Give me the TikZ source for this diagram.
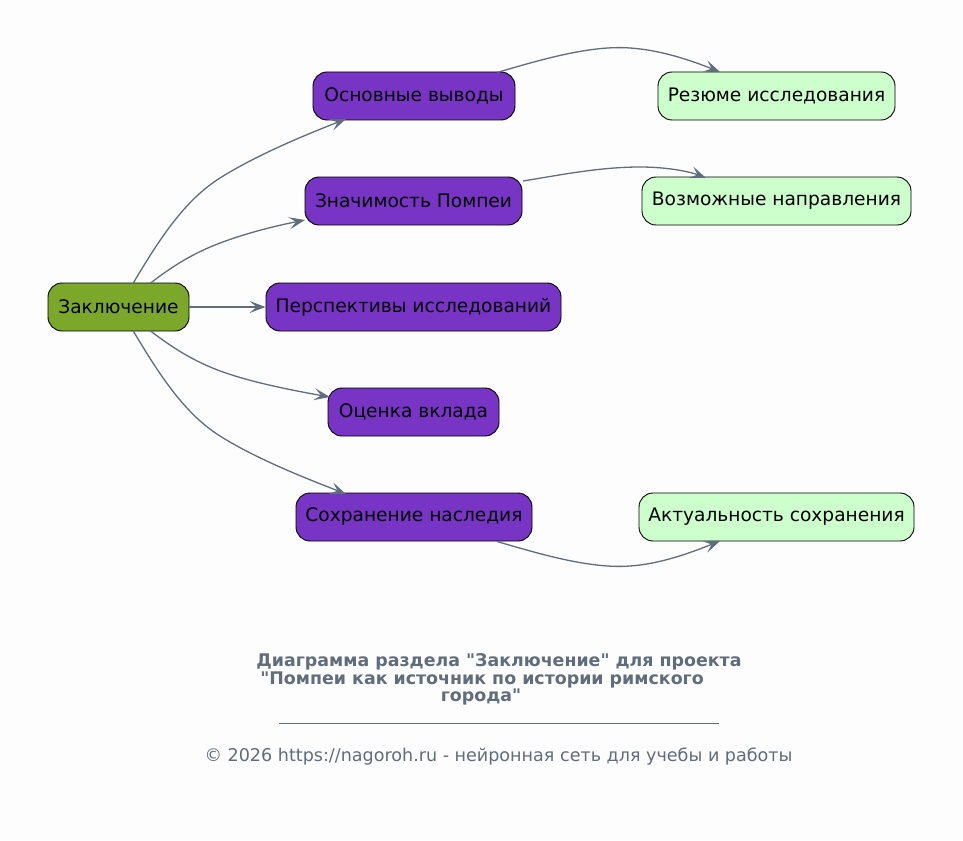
\documentclass[tikz,border=0pt]{standalone}
\usepackage{fontspec}
\setmainfont{DejaVu Sans}
\usetikzlibrary{arrows.meta}
\definecolor{bg}{HTML}{FDFDFD}
\definecolor{rootc}{HTML}{7BA82A}
\definecolor{midc}{HTML}{7834C4}
\definecolor{leafc}{HTML}{CCFFCC}
\definecolor{edgec}{HTML}{5F6D7C}
\begin{document}
\begin{tikzpicture}[x=1pt,y=-1pt,
  box/.style={draw=black,line width=0.9pt,rounded corners=14pt,minimum height=48pt,inner xsep=0pt,font=\fontsize{18.6}{21}\selectfont,text=black},
  rootbox/.style={box,fill=rootc},
  midbox/.style={box,fill=midc},
  leafbox/.style={box,fill=leafc},
  conn/.style={draw=edgec,line width=1.3pt,-{Stealth[length=16pt,width=12pt,inset=7pt]}}]
\fill[bg] (0,0) rectangle (963,840);
\useasboundingbox (0,0) rectangle (963,840);
\node[rootbox,minimum width=141pt] (root) at (118.5,307) {Заключение};
\node[midbox,minimum width=202pt] (m1) at (414,96) {Основные выводы};
\node[midbox,minimum width=217pt] (m2) at (413.5,201) {Значимость Помпеи};
\node[midbox,minimum width=295pt] (m3) at (413.5,307) {Перспективы исследований};
\node[midbox,minimum width=171pt] (m4) at (413.5,412) {Оценка вклада};
\node[midbox,minimum width=236pt] (m5) at (414,517) {Сохранение наследия};
\node[leafbox,minimum width=237pt] (l1) at (776.5,96) {Резюме исследования};
\node[leafbox,minimum width=269pt] (l2) at (776.5,201) {Возможные направления};
\node[leafbox,minimum width=275pt] (l3) at (776.5,517) {Актуальность сохранения};
% connector end points on node borders
\coordinate (r1) at (133,283.5);
\coordinate (r2) at (150,283.5);
\coordinate (r4) at (150,330.5);
\coordinate (r5) at (133,330.5);
\coordinate (t1) at (346,119);
\coordinate (t2) at (305,220);
\coordinate (t4) at (330,397);
\coordinate (t5) at (346,494);
\coordinate (s6) at (497,72.5);
\coordinate (t6) at (720,72);
\coordinate (s7) at (523,181);
\coordinate (t7) at (706,178);
\coordinate (s8) at (497,541.5);
\coordinate (t8) at (720,541);
\path[conn] (r1) .. controls (160,238) and (185,200) .. (220,178) .. controls (255,156) and (300,137) .. (t1);
\path[conn] (r2) .. controls (170,268) and (190,255) .. (215,245) .. controls (240,235) and (270,227) .. (t2);
\path[conn] (root.east) -- (m3.west);
\path[conn] (r4) .. controls (170,346) and (190,359) .. (215,369) .. controls (245,381) and (290,390) .. (t4);
\path[conn] (r5) .. controls (160,376) and (185,414) .. (220,436) .. controls (255,458) and (300,476) .. (t5);
\path[conn] (s6) .. controls (540,60) and (590,45) .. (630,48) .. controls (660,50) and (690,60) .. (t6);
\path[conn] (s7) .. controls (560,175) and (600,167) .. (640,167) .. controls (665,167) and (688,171) .. (t7);
\path[conn] (s8) .. controls (540,554) and (590,569) .. (630,566) .. controls (660,564) and (690,553) .. (t8);
\node[font=\bfseries\fontsize{17.4}{17.5}\selectfont,text=edgec,align=center] (title) at (499,679.5) {Диаграмма раздела \textquotedbl Заключение\textquotedbl\ для проекта\\\textquotedbl Помпеи как источник по истории римского\rule{34pt}{0pt}\\города\textquotedbl\rule{36pt}{0pt}};
\draw[edgec,line width=0.8pt] (279,723) -- (719,723);
\node[font=\fontsize{17.55}{20}\selectfont,text=edgec] (foot) at (498.5,756.5) {© 2026 https://nagoroh.ru - нейронная сеть для учебы и работы};
\end{tikzpicture}
\end{document}
